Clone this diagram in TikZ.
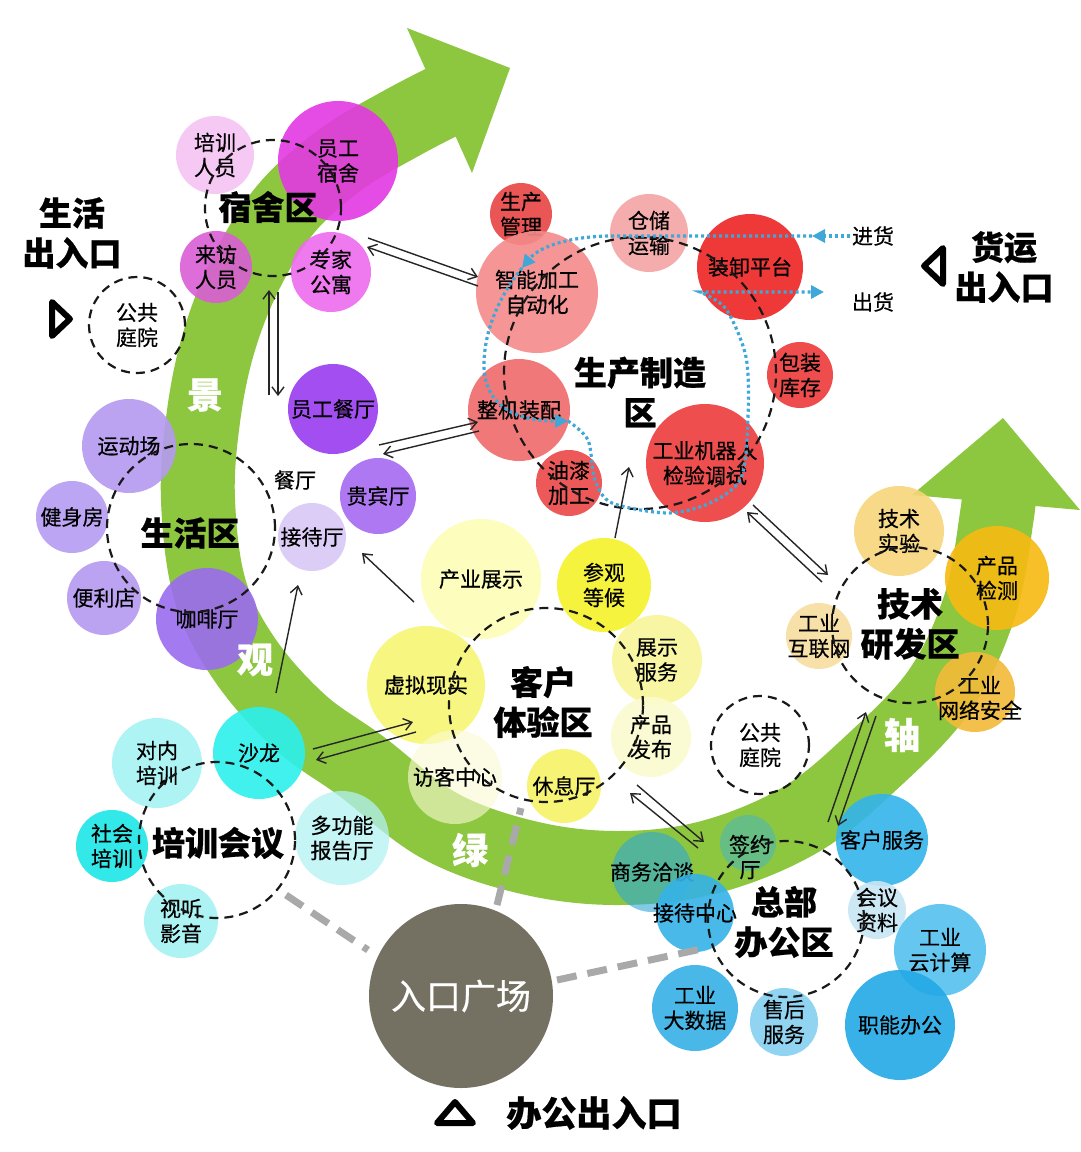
\documentclass[tikz,border=0pt]{standalone}
\usepackage{fontspec}
\setmainfont{Noto Sans CJK SC}
\newfontfamily\lblface[FakeBold=0.5]{Noto Sans CJK SC}
\newfontfamily\ttlface[BoldFeatures={FakeBold=0.6}]{Noto Sans CJK SC}
\usetikzlibrary{arrows.meta}
\newcommand\mylbl{\lblface\fontsize{21}{25}\selectfont}
\newcommand\myttl{\ttlface\fontsize{33}{40}\selectfont\bfseries}
\newcommand\mybub[7][]{%
  \node[bubstyle, minimum size={2*#5}, fill=#6, #1] (#2) at (#3,#4) {};
  \node[txt] (#2-t) at (#2) {#7};}
\definecolor{bandg}{HTML}{8DC63F}
\definecolor{cPXRY}{HTML}{F6C3F3}
\definecolor{cYGSS}{HTML}{E339E3}
\definecolor{cLFRY}{HTML}{DA5ED4}
\definecolor{cZJGY}{HTML}{EE6BEE}
\definecolor{cYGCT}{HTML}{9A3BF0}
\definecolor{cYDC}{HTML}{B49AF0}
\definecolor{cJSF}{HTML}{B59CF2}
\definecolor{cBLD}{HTML}{B49AF0}
\definecolor{cKFT}{HTML}{9A6CEE}
\definecolor{cGBT}{HTML}{A56AF0}
\definecolor{cJDT}{HTML}{D9C8F6}
\definecolor{cSCGL}{HTML}{E84444}
\definecolor{cCCYS}{HTML}{F4A4A4}
\definecolor{cZNJG}{HTML}{F48A8A}
\definecolor{cZXPT}{HTML}{EE2424}
\definecolor{cBZKC}{HTML}{EE3A3A}
\definecolor{cZJZP}{HTML}{F06A6A}
\definecolor{cYQJG}{HTML}{EC4848}
\definecolor{cGYJQR}{HTML}{EE3B3B}
\definecolor{cJSSY}{HTML}{F8D57A}
\definecolor{cCPJC}{HTML}{F7BA12}
\definecolor{cHLW}{HTML}{F8DDA0}
\definecolor{cWLAQ}{HTML}{F2BA38}
\definecolor{cCYZS}{HTML}{FDFDB8}
\definecolor{cCGDH}{HTML}{F6F22A}
\definecolor{cXNXS}{HTML}{F6F673}
\definecolor{cZSFW}{HTML}{F8F69A}
\definecolor{cCPFB}{HTML}{FBFBCF}
\definecolor{cFKZX}{HTML}{FBFBD4}
\definecolor{cXXT}{HTML}{F6F266}
\definecolor{cDNPX}{HTML}{A6F3F3}
\definecolor{cSL}{HTML}{2CF0EC}
\definecolor{cSHPX}{HTML}{1DE6E6}
\definecolor{cDGN}{HTML}{B2F2F2}
\definecolor{cSTYY}{HTML}{A6F2F2}
\definecolor{cRK}{HTML}{747062}
\definecolor{cQYT}{HTML}{3AB6DC}
\definecolor{cKHFW}{HTML}{33B4EA}
\definecolor{cSWQT}{HTML}{2FA8D8}
\definecolor{cJDZX}{HTML}{35B2E6}
\definecolor{cHYZL}{HTML}{C8E6F4}
\definecolor{cYJS}{HTML}{55C2EE}
\definecolor{cZNBG}{HTML}{22A9E6}
\definecolor{cDSJ}{HTML}{36B1E6}
\definecolor{cSHFW}{HTML}{84D0F0}
\definecolor{logic}{HTML}{40A8D8}
\definecolor{gline}{HTML}{A9A9A9}
\begin{document}
\begin{tikzpicture}[x=1pt,y=-1pt,
  bubstyle/.style={circle, inner sep=0pt, draw=none, fill opacity=0.9},
  txt/.style={align=center, font=\mylbl, inner sep=0pt, text=black},
  ttl/.style={align=center, font=\myttl, inner sep=0pt, text=black},
  zone/.style={circle, inner sep=0pt, draw=black!90, line width=2.2pt, dash pattern=on 9pt off 6pt},
  conn/.style={line width=1.4pt, black!85, -{Straight Barb[length=8pt,width=12pt,line width=1.4pt]}},
  logi/.style={line width=3.2pt, logic, dash pattern=on 3pt off 3pt, -{Triangle[length=13pt,width=13pt]}},
  gdash/.style={line width=7pt, gline, dash pattern=on 20pt off 11pt},
  bandlbl/.style={font=\ttlface\fontsize{36}{36}\selectfont\bfseries, text=white, inner sep=0pt},
  gate/.style={line width=6pt, line join=round, black}]
\fill[white] (0,0) rectangle (1080,1152);
\path[use as bounding box] (0,0) rectangle (1080,1152);

% green band
\draw[bandg, line width=74pt, line cap=butt] plot[smooth, tension=0.6] coordinates {
 (452,97) (400,124) (340,160) (285,210) (245,275) (218,345) (203,420) (198,500)
 (210,590) (245,660) (300,722) (361,766) (440,826) (530,858) (620,868) (710,857)
 (800,820) (872,762) (940,690) (980,605) (997,515) (999,485)};
\fill[bandg] (407,28) -- (510,68) -- (472,173) -- cycle;
\fill[bandg] (912,495) -- (1003,418) -- (1080,510) -- cycle;

% dormitory
\mybub{pxry}{215}{155}{39}{cPXRY}{培训\\人员}
\mybub{ygss}{338}{161}{60}{cYGSS}{员工\\宿舍}
\mybub{lfry}{216}{267}{36}{cLFRY}{来访\\人员}
\mybub{zjgy}{331}{272}{40}{cZJGY}{专家\\公寓}
% living
\mybub{ygct}{333}{409}{45}{cYGCT}{员工餐厅}
\mybub{ydc}{129}{446}{47}{cYDC}{运动场}
\mybub{jsf}{72}{517}{36}{cJSF}{健身房}
\mybub{bld}{104}{598}{37}{cBLD}{便利店}
\mybub{kft}{207}{619}{51}{cKFT}{咖啡厅}
\mybub{gbt}{378}{496}{38}{cGBT}{贵宾厅}
\mybub{jdt}{312}{537}{34}{cJDT}{接待厅}
% production
\mybub{scgl}{521}{214}{31}{cSCGL}{生产\\管理}
\mybub{ccys}{649}{233}{39}{cCCYS}{仓储\\运输}
\mybub{znjg}{537}{292}{61}{cZNJG}{智能加工\\自动化}
\mybub{zxpt}{750}{267}{53}{cZXPT}{装卸平台}
\mybub{bzkc}{800}{375}{33}{cBZKC}{包装\\库存}
\mybub{zjzp}{519}{410}{51}{cZJZP}{整机装配}
\mybub{yqjg}{569}{483}{33}{cYQJG}{油漆\\加工}
\mybub{gyjqr}{705}{463}{59}{cGYJQR}{工业机器人\\检验调试}
% R&D
\mybub{jssy}{899}{531}{45}{cJSSY}{技术\\实验}
\mybub{cpjc}{997}{578}{52}{cCPJC}{产品\\检测}
\mybub{gyhlw}{819}{636}{33}{cHLW}{工业\\互联网}
\mybub{wlaq}{975}{692}{40}{cWLAQ}{}
\node[txt] at (980,698) {工业\\网络安全};
% customer experience
\mybub{cyzs}{481}{579}{60}{cCYZS}{产业展示}
\mybub{cgdh}{604}{585}{47}{cCGDH}{参观\\等候}
\mybub{xnxs}{426}{685}{59}{cXNXS}{虚拟现实}
\mybub{zsfw}{657}{660}{45}{cZSFW}{展示\\服务}
\mybub{cpfb}{651}{737}{40}{cCPFB}{产品\\发布}
\mybub[fill opacity=0.6]{fkzx}{455}{777}{47}{cFKZX}{访客中心}
\mybub{xxt}{564}{786}{37}{cXXT}{休息厅}
% training
\mybub{dnpx}{157}{763}{45}{cDNPX}{对内\\培训}
\mybub{sl}{259}{753}{46}{cSL}{沙龙}
\mybub{shpx}{112}{846}{36}{cSHPX}{社会\\培训}
\mybub[fill opacity=0.75]{dgn}{342}{838}{47}{cDGN}{多功能\\报告厅}
\mybub{styy}{181}{921}{37}{cSTYY}{视听\\影音}
% headquarters
\mybub[fill opacity=0.45]{qyt}{748}{843}{28}{cQYT}{}
\node[txt] at (750,857) {签约\\厅};
\mybub{khfw}{882}{840}{46}{cKHFW}{客户服务}
\mybub[fill opacity=0.6]{swqt}{652}{872}{40}{cSWQT}{商务洽谈}
\mybub{jdzx}{695}{913}{39}{cJDZX}{接待中心}
\mybub{hyzl}{877}{910}{29}{cHYZL}{会议\\资料}
\mybub{yjs}{940}{950}{46}{cYJS}{工业\\云计算}
\mybub{znbg}{900}{1025}{55}{cZNBG}{职能办公}
\mybub{dsj}{695}{1008}{43}{cDSJ}{工业\\大数据}
\mybub{shfw}{784}{1022}{34}{cSHFW}{售后\\服务}

% entrance plaza
\node[circle, inner sep=0pt, fill=cRK, minimum size=184] (rkgc) at (461,996) {};
\node[font=\lblface\fontsize{35}{35}\selectfont, text=white, inner sep=0pt] at (rkgc) {入口广场};

% zone circles
\node[zone, minimum size=136] (ssq) at (273,208) {};
\node[zone, minimum size=96] (ggty1) at (137,325) {};
\node[zone, minimum size=168] (shq) at (191,528) {};
\node[zone, minimum size=272] (sczzq) at (640,373) {};
\node[zone, minimum size=156] (jsyfq) at (910,625) {};
\node[zone, minimum size=194] (khtyq) at (546,705) {};
\node[zone, minimum size=98] (ggty2) at (760,745) {};
\node[zone, minimum size=156] (pxhy) at (217,840) {};
\node[zone, minimum size=156] (zbbgq) at (786,919) {};

% gray dashed links
\coordinate (g1a) at (286,895); \coordinate (g1b) at (368,950);
\coordinate (g2a) at (497,905); \coordinate (g2b) at (521,808);
\coordinate (g3a) at (557,980); \coordinate (g3b) at (706,948);
\draw[gdash] (g1a) -- (g1b);
\draw[gdash] (g2a) -- (g2b);
\draw[gdash] (g3a) -- (g3b);

% logistics dotted route
\coordinate (jh) at (850,236);
\coordinate (jhA) at (812,236);
\coordinate (la) at (522,268);
\coordinate (lb) at (568,421);
\coordinate (ch) at (824,292);
\draw[logi] (jh) -- (jhA);
\draw[logi] (jhA) -- (612,236) .. controls (572,236) and (540,246) .. (la);
\draw[logi] (la) .. controls (500,295) and (484,330) .. (484,365) .. controls (484,405) and (515,421) .. (lb);
\draw[logi] plot[smooth] coordinates {(568,421) (588,440) (595,480) (612,503) (668,513) (710,503) (741,478) (748,417) (746,357) (726,309) (700,292)} -- (ch);

% connectors
\coordinate (c1a) at (368,238); \coordinate (c1b) at (478,277);
\coordinate (c1c) at (478,286); \coordinate (c1d) at (367,247);
\draw[conn] (c1a) -- (c1b);
\draw[conn] (c1c) -- (c1d);
\coordinate (c2a) at (269,395); \coordinate (c2b) at (269,290);
\coordinate (c2c) at (278,292); \coordinate (c2d) at (278,396);
\draw[conn] (c2a) -- (c2b);
\draw[conn] (c2c) -- (c2d);
\coordinate (c3a) at (379,445); \coordinate (c3b) at (478,422);
\coordinate (c3c) at (479,431); \coordinate (c3d) at (383,454);
\draw[conn] (c3a) -- (c3b);
\draw[conn] (c3c) -- (c3d);
\coordinate (c4a) at (414,602); \coordinate (c4b) at (362,553);
\draw[conn] (c4a) -- (c4b);
\coordinate (c5a) at (276,693); \coordinate (c5b) at (298,585);
\draw[conn] (c5a) -- (c5b);
\coordinate (c6a) at (313,749); \coordinate (c6b) at (413,722);
\coordinate (c6c) at (416,732); \coordinate (c6d) at (316,760);
\draw[conn] (c6a) -- (c6b);
\draw[conn] (c6c) -- (c6d);
\coordinate (c7a) at (615,538); \coordinate (c7b) at (629,467);
\draw[conn] (c7a) -- (c7b);
\coordinate (c8a) at (822,582); \coordinate (c8b) at (747,512);
\coordinate (c8c) at (753,505); \coordinate (c8d) at (828,575);
\draw[conn] (c8a) -- (c8b);
\draw[conn] (c8c) -- (c8d);
\coordinate (c9a) at (698,848); \coordinate (c9b) at (630,793);
\coordinate (c9c) at (637,785); \coordinate (c9d) at (704,842);
\draw[conn] (c9a) -- (c9b);
\draw[conn] (c9c) -- (c9d);
\coordinate (c10a) at (828,822); \coordinate (c10b) at (866,712);
\coordinate (c10c) at (876,716); \coordinate (c10d) at (838,826);
\draw[conn] (c10a) -- (c10b);
\draw[conn] (c10c) -- (c10d);

% titles
\node[ttl] at (268,207) {宿舍区};
\node[ttl] at (190,533) {生活区};
\node[ttl] at (640,392) {生产制造\\区};
\node[ttl] at (910,624) {技术\\研发区};
\node[ttl] at (543,702) {客户\\体验区};
\node[ttl] at (218,843) {培训会议};
\node[ttl] at (784,922) {总部\\办公区};
\node[txt] at (ggty1) {公共\\庭院};
\node[txt] at (ggty2) {公共\\庭院};
\node[txt] at (295,480) {餐厅};
\node[txt] at (873,236) {进货};
\node[txt] at (873,302) {出货};

% band labels
\node[bandlbl] at (205,395) {景};
\node[bandlbl] at (255,660) {观};
\node[bandlbl] at (470,850) {绿};
\node[bandlbl] at (902,735) {轴};

% entrances
\node[ttl] at (72,233) {生活\\出入口};
\draw[gate] (52,302) -- (70,319) -- (52,336) -- cycle;
\node[ttl] at (1004,267) {货运\\出入口};
\draw[gate] (943,248) -- (924,266) -- (943,284) -- cycle;
\draw[gate] (437,1123) -- (455,1102) -- (473,1123) -- cycle;
\node[ttl, font=\myttl\fontsize{35}{40}\selectfont] at (594,1113) {办公出入口};
\end{tikzpicture}
\end{document}
